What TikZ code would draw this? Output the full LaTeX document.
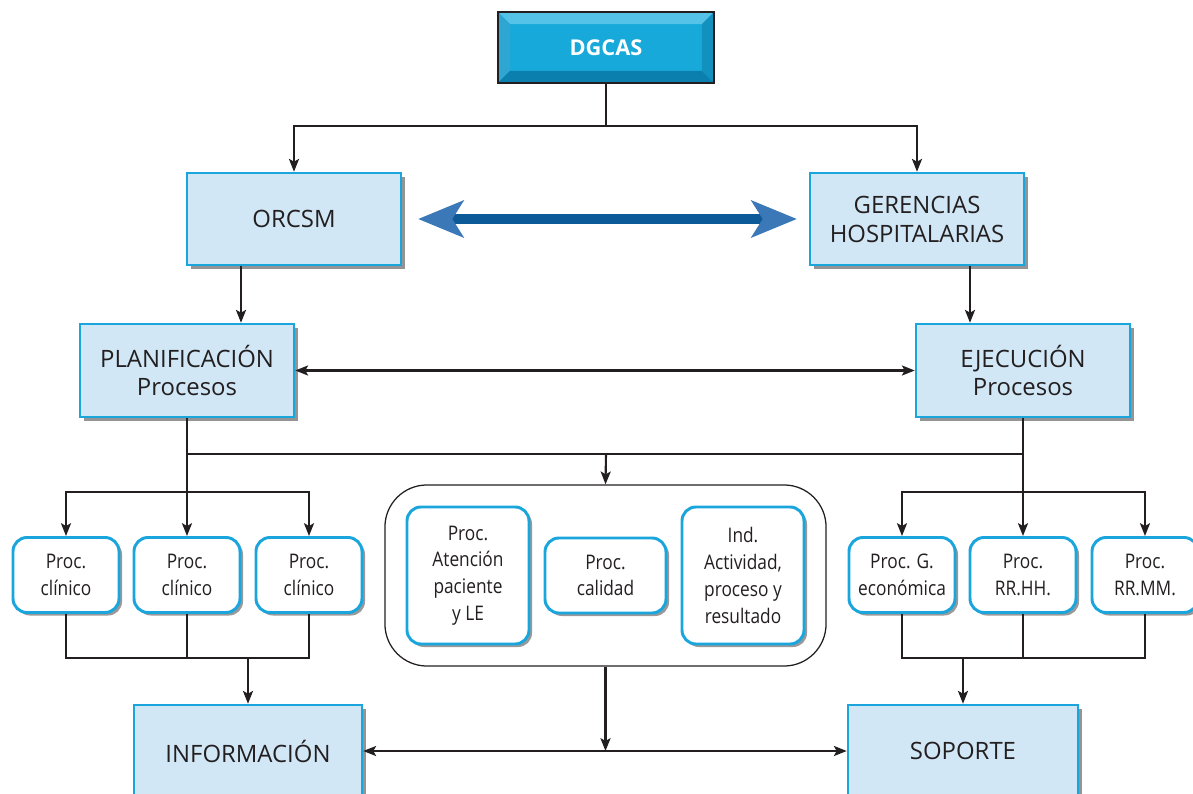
\documentclass[tikz,border=0pt]{standalone}
\usepackage{fontspec}
\setmainfont{Open Sans}
\newfontfamily\narrowfont[FakeStretch=0.86]{Open Sans}
\usetikzlibrary{arrows.meta,shadows,calc}
\definecolor{boxcyan}{HTML}{1BA5DD}
\definecolor{boxfill}{HTML}{D1E7F6}
\definecolor{ink}{HTML}{231F20}
\definecolor{dgfill}{HTML}{17A9DA}
\definecolor{bevtop}{HTML}{55C3E8}
\definecolor{bevleft}{HTML}{2FA6D2}
\definecolor{bevbot}{HTML}{0B7FAE}
\definecolor{bevright}{HTML}{1290BE}
\definecolor{linkblue}{HTML}{0D5A99}
\definecolor{tipblue}{HTML}{3A78B8}
\begin{document}
\begin{tikzpicture}[x=0.025cm, y=-0.025cm,
    unit box/.style={draw=boxcyan, line width=1.8pt, fill=boxfill, text=ink, align=center,
        inner sep=0pt, minimum width=5.35cm, minimum height=2.3cm,
        font=\fontsize{17}{20.6}\selectfont,
        drop shadow={shadow xshift=0.1cm, shadow yshift=-0.1cm, fill=black!42, opacity=1}},
    proc box/.style={draw=boxcyan, line width=2.1pt, fill=white, rounded corners=0.35cm,
        text=ink, align=center, inner sep=0pt, minimum width=2.65cm, minimum height=1.875cm,
        font=\narrowfont\fontsize{14.3}{19}\selectfont,
        drop shadow={shadow xshift=0.075cm, shadow yshift=-0.075cm, fill=black!40, opacity=1}},
    head box/.style={draw=ink, line width=1.3pt, fill=dgfill, text=white, inner sep=0pt,
        minimum width=5.35cm, minimum height=1.725cm, font=\bfseries\fontsize{15.5}{18}\selectfont},
    group box/.style={draw=ink, line width=0.9pt, rounded corners=1.05cm, inner sep=0pt,
        minimum width=11.025cm, minimum height=4.525cm},
    link/.style={draw=ink, line width=1.5pt},
    arr/.style={link, -{Stealth[length=0.32cm, width=0.25cm, inset=0.07cm]}},
    dbl/.style={link, {Stealth[length=0.32cm, width=0.25cm, inset=0.07cm]}-{Stealth[length=0.32cm, width=0.25cm, inset=0.07cm]}},
    big link/.style={draw=linkblue, line width=0.225cm, shorten <=0.4cm, shorten >=0.3cm,
        {Stealth[length=1.15cm, width=0.95cm, inset=0.3cm, line width=0pt, color=tipblue]}-{Stealth[length=1.15cm, width=0.95cm, inset=0.3cm, line width=0pt, color=tipblue]}}]
    \useasboundingbox (0,0) rectangle (1193,794);
    \clip (0,0) rectangle (1193,794);

    \node[head box] (dgcas) at (606,47.5) {DGCAS};
    \fill[bevtop] (dgcas.north west) -- (dgcas.north east) -- ([shift={(-12,12)}]dgcas.north east) -- ([shift={(12,12)}]dgcas.north west) -- cycle;
    \fill[bevleft] (dgcas.north west) -- ([shift={(12,12)}]dgcas.north west) -- ([shift={(12,-12)}]dgcas.south west) -- (dgcas.south west) -- cycle;
    \fill[bevbot] (dgcas.south west) -- (dgcas.south east) -- ([shift={(-12,-12)}]dgcas.south east) -- ([shift={(12,-12)}]dgcas.south west) -- cycle;
    \fill[bevright] (dgcas.north east) -- (dgcas.south east) -- ([shift={(-12,-12)}]dgcas.south east) -- ([shift={(-12,12)}]dgcas.north east) -- cycle;
    \draw[ink, line width=1.3pt] (dgcas.north west) rectangle (dgcas.south east);

    \node[unit box] (orcsm) at (294,219) {ORCSM};
    \node[unit box] (ger) at (917,219) {GERENCIAS\\HOSPITALARIAS};
    \node[unit box, minimum height=2.325cm] (plan) at (187,370.5) {PLANIFICACIÓN\\Procesos};
    \node[unit box, minimum height=2.325cm] (eje) at (1023,370.5) {EJECUCIÓN\\Procesos};
    \node[unit box, minimum width=5.7cm] (info) at (248,751) {INFORMACIÓN};
    \node[unit box, minimum width=5.75cm] (sop) at (963,751) {SOPORTE};

    \foreach \n/\x/\t in {c1/66/{Proc.\\clínico}, c2/187/{Proc.\\clínico}, c3/309/{Proc.\\clínico},
                          r1/902/{Proc. G.\\económica}, r2/1023/{Proc.\\RR.HH.}, r3/1145/{Proc.\\RR.MM.}}
        \node[proc box] (\n) at (\x,575) {\t};

    \node[group box] (grp) at (605.5,575.5) {};
    \node[proc box, minimum width=3.05cm, minimum height=3.425cm] (m1) at (468,575.5) {Proc.\\Atención\\paciente\\y LE};
    \node[proc box, minimum width=3.025cm] (m2) at (605.5,575.5) {Proc.\\calidad};
    \node[proc box, minimum width=3.05cm, minimum height=3.425cm] (m3) at (743,575.5) {Ind.\\Actividad,\\proceso y\\resultado};

    \coordinate (top) at (606,126);
    \coordinate (bus) at (606,454);
    \coordinate (lb) at (0,492);
    \coordinate (lo) at (0,658);
    \coordinate (pl) at (241,0);
    \coordinate (ej) at (970,0);

    \draw[link] (dgcas.south) -- (top);
    \draw[arr] (top) -| (orcsm.north);
    \draw[arr] (top) -| (ger.north);
    \draw[big link] (orcsm.east) -- (ger.west);
    \draw[arr] (pl |- orcsm.south) -- (pl |- plan.north);
    \draw[arr] (ej |- ger.south) -- (ej |- eje.north);
    \draw[dbl] (plan.east) -- (eje.west);

    \draw[link] (plan.south |- bus) -- (eje.south |- bus);
    \draw[arr] (plan.south) -- (c2.north);
    \draw[arr] (eje.south) -- (r2.north);
    \draw[arr] (bus) -- (grp.north);
    \draw[arr] (c2.north |- lb) -| (c1.north);
    \draw[arr] (c2.north |- lb) -| (c3.north);
    \draw[arr] (r2.north |- lb) -| (r1.north);
    \draw[arr] (r2.north |- lb) -| (r3.north);

    \draw[link] (c1.south) |- (c3.south |- lo) -- (c3.south);
    \draw[link] (c2.south) -- (c2.south |- lo);
    \draw[arr] (info.north |- lo) -- (info.north);
    \draw[link] (r1.south) |- (r3.south |- lo) -- (r3.south);
    \draw[link] (r2.south) -- (r2.south |- lo);
    \draw[arr] (sop.north |- lo) -- (sop.north);

    \draw[arr] (grp.south) -- (grp.south |- info.east);
    \draw[dbl] (info.east) -- (sop.west);
\end{tikzpicture}
\end{document}
